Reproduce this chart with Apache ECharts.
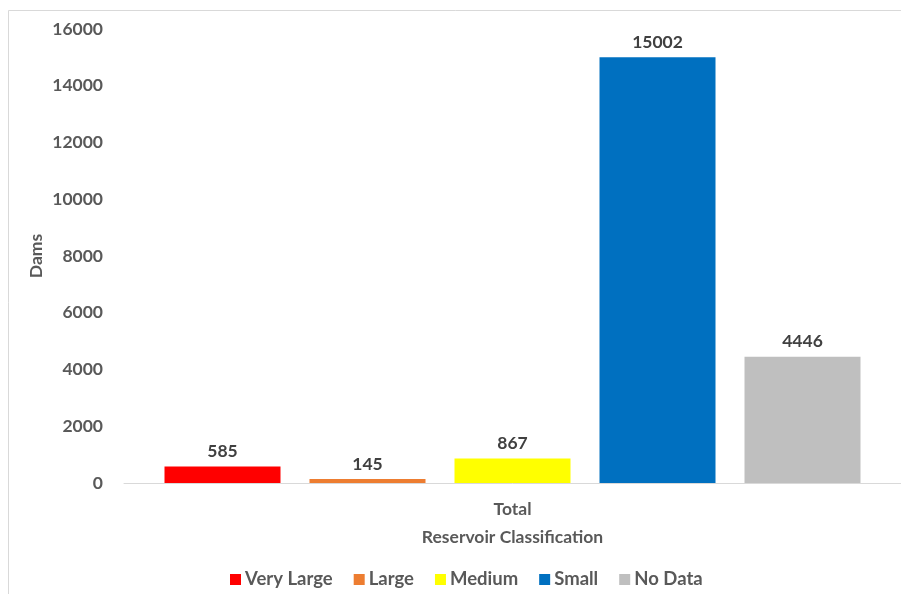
<!DOCTYPE html>
<html>
<head>
<meta charset="utf-8">
<script src="https://cdn.jsdelivr.net/npm/echarts@6/dist/echarts.min.js"></script>
<style>
  html, body { margin: 0; padding: 0; background: #ffffff; }
  #chart { width: 901px; height: 594px; }
</style>
</head>
<body>
<div id="chart"></div>
<script>
// Dam counts per reservoir size class
const categories = ['Total'];
const seriesNames = ['Very Large', 'Large', 'Medium', 'Small', 'No Data'];
const seriesValues = [585, 145, 867, 15002, 4446];
const seriesColors = ['#ff0000', '#ed7d31', '#ffff00', '#0070c0', '#bfbfbf'];
const yTicks = { min: 0, max: 16000, interval: 2000 };

const FONT = 'Lato, "Open Sans", sans-serif';
const labelColor = '#595959';
const FS = 17.5;

const chart = echarts.init(document.getElementById('chart'));

const series = seriesNames.map((name, i) => ({
  name: name,
  type: 'bar',
  data: [seriesValues[i]],
  itemStyle: { color: seriesColors[i] },
  barWidth: 116,
  barGap: '25%',
  label: {
    show: true,
    position: 'top',
    distance: 6,
    color: '#404040',
    fontFamily: FONT,
    fontWeight: 'bold',
    fontSize: FS
  }
}));

chart.setOption({
  animation: false,
  backgroundColor: '#ffffff',
  graphic: [
    {
      type: 'polyline',
      shape: { points: [[8.5, 600], [8.5, 10.5], [910, 10.5]] },
      style: { stroke: '#d9d9d9', lineWidth: 1, fill: null }
    }
  ],
  grid: { left: 124, top: 29, right: 0, height: 454, containLabel: false },
  legend: {
    data: seriesNames,
    left: 225,
    top: 565,
    icon: 'rect',
    itemWidth: 11,
    itemHeight: 11,
    itemGap: 21,
    textStyle: { color: labelColor, fontFamily: FONT, fontWeight: 'bold', fontSize: 18.5, padding: [0, 0, 0, -1] }
  },
  xAxis: {
    type: 'category',
    data: categories,
    name: 'Reservoir Classification',
    nameLocation: 'middle',
    nameGap: 45,
    nameTextStyle: { color: labelColor, fontFamily: FONT, fontWeight: 'bold', fontSize: FS },
    axisLine: { lineStyle: { color: '#d9d9d9', width: 1 } },
    axisTick: { show: false },
    axisLabel: { color: labelColor, fontFamily: FONT, fontWeight: 'bold', fontSize: FS, margin: 17 }
  },
  yAxis: {
    type: 'value',
    min: yTicks.min,
    max: yTicks.max,
    interval: yTicks.interval,
    name: 'Dams',
    nameLocation: 'middle',
    nameGap: 79,
    nameMoveOverlap: false,
    nameTextStyle: { color: labelColor, fontFamily: FONT, fontWeight: 'bold', fontSize: FS },
    axisLine: { show: false },
    axisTick: { show: false },
    splitLine: { show: false },
    axisLabel: {
      color: labelColor, fontFamily: FONT, fontWeight: 'bold', fontSize: FS, margin: 21,
      formatter: (v) => String(v)
    }
  },
  series: series
});
</script>
</body>
</html>
